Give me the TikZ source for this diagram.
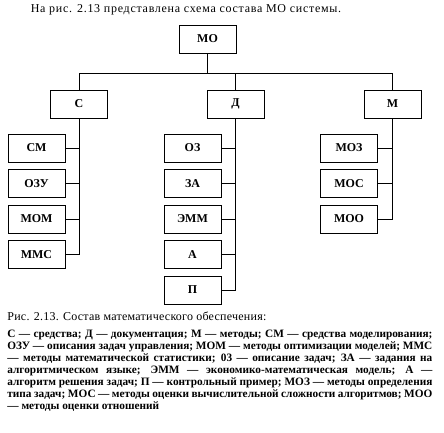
\documentclass[tikz,border=0pt]{standalone}
\usepackage{fontspec}
\setmainfont{Liberation Serif}
\newfontfamily\titlefont[LetterSpace=6]{Liberation Serif}
\newfontfamily\capfont[LetterSpace=2]{Liberation Serif}
\usepackage{tikz}

\begin{document}
\begin{tikzpicture}[x=1pt, y=-1pt, line width=0.8pt,
	box/.style={draw, minimum width=57pt, minimum height=28pt, inner sep=0pt, font=\bfseries\fontsize{12}{14}\selectfont}]
	\useasboundingbox (0,0) rectangle (444,432);
	\node (title) at (186,10) {\titlefont\fontsize{12}{14}\selectfont На рис. 2.13 представлена схема состава МО системы.};
	\node[box] (mo) at (207.5,39) {МО};
	\node[box] (c) at (79,104) {С};
	\node[box] (d) at (235.5,104) {Д};
	\node[box] (m) at (392.5,104) {М};
	\coordinate (bus) at (0,73);
	\draw (c.north) |- (bus -| m.north) -- (m.north);
	\draw (mo.south) -- (mo.south |- bus);
	\draw (d.north) -- (d.north |- bus);
	% sub-items
	\node[box] (cm) at (36.5,148) {СМ};
	\node[box] (ozu) at (36.5,183.5) {ОЗУ};
	\node[box] (mom) at (36.5,219) {МОМ};
	\node[box] (mms) at (36.5,254.5) {ММС};
	\node[box] (oz) at (192.5,148) {ОЗ};
	\node[box] (za) at (192.5,183.5) {ЗА};
	\node[box] (emm) at (192.5,219) {ЭММ};
	\node[box] (a) at (192.5,254.5) {А};
	\node[box] (p) at (192.5,290) {П};
	\node[box] (moz) at (349,148) {МОЗ};
	\node[box] (mos) at (349,183.5) {МОС};
	\node[box] (moo) at (349,219) {МОО};
	\draw (c.south) |- (mms.east);
	\foreach \n in {cm,ozu,mom} \draw (\n.east) -- (\n.east -| c.south);
	\draw (d.south) |- (p.east);
	\foreach \n in {oz,za,emm,a} \draw (\n.east) -- (\n.east -| d.south);
	\draw (m.south) |- (moo.east);
	\foreach \n in {moz,mos} \draw (\n.east) -- (\n.east -| m.south);
	% caption
	\node[anchor=west, inner sep=0pt] (cap) at (7,316) {\capfont\fontsize{12}{14}\selectfont Рис. 2.13. Состав математического обеспечения:};
	\node[anchor=north west, inner sep=0pt, text width=425pt, align=justify] (legend) at (7,330)
	{\bfseries\fontsize{11.3}{15}\selectfont С — средства; Д — документация; М — методы; СМ — средства моделирования;\linebreak
	ОЗУ — описания задач управления; МОМ — методы оптимизации моделей; ММС\linebreak
	— методы математической статистики; 03 — описание задач; ЗА — задания на\linebreak
	алгоритмическом языке; ЭММ — экономико-математическая модель; А —\linebreak
	алгоритм решения задач; П — контрольный пример; МОЗ — методы определения\linebreak
	типа задач; МОС — методы оценки вычислительной сложности алгоритмов; МОО\linebreak
	— методы оценки отношений};
\end{tikzpicture}
\end{document}
